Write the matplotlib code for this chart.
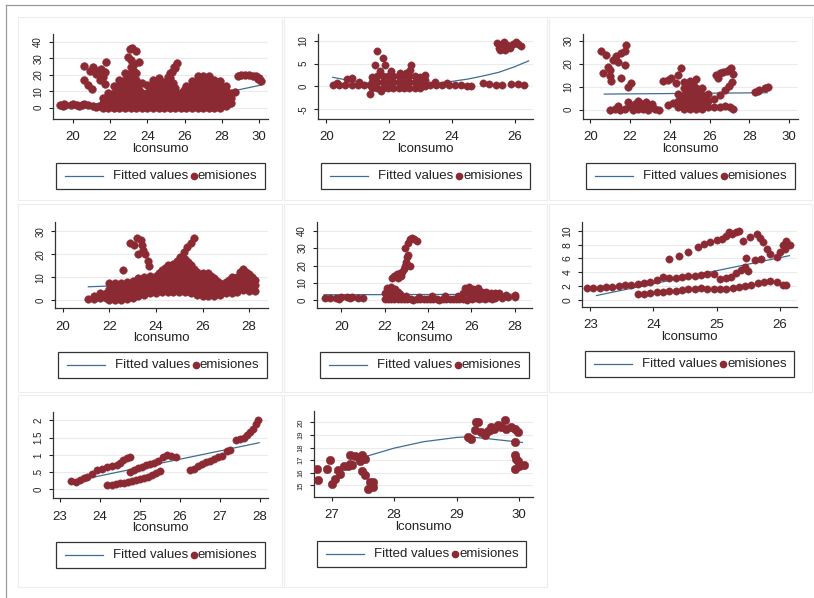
import numpy as np
import matplotlib.pyplot as plt
from matplotlib.lines import Line2D
from matplotlib.patches import Rectangle

plt.rcParams['font.family'] = ['Liberation Sans', 'DejaVu Sans']

MAROON = '#8C2A33'
NAVY = '#3E6E93'

# ---------------- data: (lconsumo, emisiones) ----------------
emis_1 = [
    (19.3, 1.5), (19.6, 1.6), (19.9, 1.8), (20.2, 1.6), (20.5, 1.5), (20.8, 1.4), (21.1, 1.2), (21.4, 1.0),
    (19.5, 2.3), (20.0, 2.4), (20.6, 2.2), (19.45, 0.8), (20.35, 0.9), (21.25, 0.5),
    (20.62, 25.6), (20.9, 22.6), (20.62, 16.6), (20.8, 13.6), (21.0, 11.6), (21.25, 20.6), (21.5, 23.6),
    (21.8, 27.6), (21.7, 14.6), (21.43, 16.6), (21.07, 24.6), (21.6, 18.6), (21.35, 22.5), (21.7, 21.5),
    (21.6, 0), (21.6, 3), (21.6, 6),
    (21.9, 0), (21.9, 3), (21.9, 6), (21.9, 9),
    (22.2, 0), (22.2, 3), (22.2, 6), (22.2, 9), (22.2, 13),
    (22.5, 0), (22.5, 3), (22.5, 6), (22.5, 9), (22.5, 13), (22.5, 17),
    (22.8, 0), (22.8, 3), (22.8, 6), (22.8, 9), (22.8, 13), (22.8, 17), (22.8, 21),
    (23.1, 0), (23.1, 3), (23.1, 6), (23.1, 9), (23.1, 13), (23.1, 17), (23.1, 21), (23.1, 25),
    (23.4, 0), (23.4, 3), (23.4, 6), (23.4, 9), (23.4, 13), (23.4, 17), (23.4, 21),
    (23.7, 0), (23.7, 3), (23.7, 6), (23.7, 9), (23.7, 15),
    (24.0, 0), (24.0, 3), (24.0, 6), (24.0, 9), (24.0, 14),
    (24.3, 0), (24.3, 3), (24.3, 6), (24.3, 9), (24.3, 14), (24.3, 17),
    (24.6, 0), (24.6, 3), (24.6, 6), (24.6, 9), (24.6, 13), (24.6, 18),
    (24.9, 0), (24.9, 3), (24.9, 6), (24.9, 9), (24.9, 13), (24.9, 15),
    (25.2, 0), (25.2, 3), (25.2, 6), (25.2, 9), (25.2, 13), (25.2, 18), (25.2, 21),
    (25.5, 0), (25.5, 3), (25.5, 6), (25.5, 9), (25.5, 12), (25.5, 24),
    (25.8, 0), (25.8, 3), (25.8, 6), (25.8, 9),
    (26.1, 0), (26.1, 3), (26.1, 6), (26.1, 9), (26.1, 13),
    (26.4, 0), (26.4, 3), (26.4, 6), (26.4, 9), (26.4, 13), (26.4, 16),
    (26.7, 0), (26.7, 3), (26.7, 6), (26.7, 9), (26.7, 13), (26.7, 17), (26.7, 19),
    (27.0, 0), (27.0, 3), (27.0, 6), (27.0, 9), (27.0, 13), (27.0, 17), (27.0, 19),
    (27.3, 0), (27.3, 3), (27.3, 6), (27.3, 9), (27.3, 13), (27.3, 17), (27.3, 19),
    (27.6, 0), (27.6, 3), (27.6, 6), (27.6, 9), (27.6, 13), (27.6, 17),
    (27.9, 0), (27.9, 3), (27.9, 6), (27.9, 9), (27.9, 13), (27.9, 16),
    (28.2, 1), (28.2, 4), (28.2, 7), (28.2, 10), (28.2, 13),
    (28.5, 3), (28.5, 6), (28.5, 9), (28.7, 9.5),
    (21.75, 1.5), (21.75, 4.5),
    (22.05, 1.5), (22.05, 4.5), (22.05, 7.5),
    (22.35, 1.5), (22.35, 4.5), (22.35, 7.5), (22.35, 11),
    (22.65, 1.5), (22.65, 4.5), (22.65, 7.5), (22.65, 11), (22.65, 15),
    (22.95, 1.5), (22.95, 4.5), (22.95, 7.5), (22.95, 11), (22.95, 15), (22.95, 19),
    (23.25, 1.5), (23.25, 4.5), (23.25, 7.5), (23.25, 11), (23.25, 15), (23.25, 19), (23.25, 23),
    (23.55, 1.5), (23.55, 4.5), (23.55, 7.5), (23.55, 11),
    (23.85, 1.5), (23.85, 4.5), (23.85, 7.5),
    (24.15, 1.5), (24.15, 4.5), (24.15, 7.5), (24.15, 11),
    (24.45, 1.5), (24.45, 4.5), (24.45, 7.5), (24.45, 11), (24.45, 15),
    (24.75, 1.5), (24.75, 4.5), (24.75, 7.5), (24.75, 11),
    (25.05, 1.5), (25.05, 4.5), (25.05, 7.5), (25.05, 11), (25.05, 15),
    (25.35, 1.5), (25.35, 4.5), (25.35, 7.5), (25.35, 11), (25.35, 15),
    (25.65, 1.5), (25.65, 4.5), (25.65, 7.5),
    (25.95, 1.5), (25.95, 4.5), (25.95, 7.5), (25.95, 11),
    (26.25, 1.5), (26.25, 4.5), (26.25, 7.5), (26.25, 11),
    (26.55, 1.5), (26.55, 4.5), (26.55, 7.5), (26.55, 11), (26.55, 15),
    (26.85, 1.5), (26.85, 4.5), (26.85, 7.5), (26.85, 11), (26.85, 15), (26.85, 18),
    (27.15, 1.5), (27.15, 4.5), (27.15, 7.5), (27.15, 11), (27.15, 15), (27.15, 18),
    (27.45, 1.5), (27.45, 4.5), (27.45, 7.5), (27.45, 11), (27.45, 15),
    (27.75, 1.5), (27.75, 4.5), (27.75, 7.5), (27.75, 11), (27.75, 15),
    (28.05, 1.5), (28.05, 4.5), (28.05, 7.5), (28.05, 11),
    (28.35, 2.5), (28.35, 5.5), (28.35, 8.5),
    (22.95, 30.6), (23.04, 35.6), (23.2, 36.6), (23.4, 34.6), (23.3, 26.6), (23.57, 27.6), (23.1, 29),
    (24.7, 12.6), (24.9, 15.5), (25.1, 18.5), (25.3, 21.5), (25.45, 24.5), (25.6, 27.4),
    (28.85, 19), (29.05, 20), (29.25, 20), (29.45, 19.8), (29.65, 19.5), (29.85, 19), (30.0, 18),
    (30.1, 16.5), (29.95, 17.2),
]
fit_1 = [(19.3, 1.2), (21.0, 1.5), (23.0, 2.5), (25.0, 4.3), (27.0, 7.0), (28.6, 10.2), (30.1, 13.8)]

emis_2 = [
    (20.2, 0.4), (20.4, 0.4), (20.6, 0.3), (20.8, 0.4), (21.0, 0.3), (21.2, 0.4), (21.4, 0.3),
    (20.35, 0.8), (20.65, 1.6), (20.8, 1.8), (21.05, 0.9),
    (23.3, 0.4), (23.5, 0.3), (23.7, 0.4), (23.9, 0.3), (24.1, 0.3), (24.3, 0.3), (24.5, 0.2), (24.6, 0.2),
    (23.45, 0.9), (23.85, 0.8),
    (21.45, -0.4), (21.45, 0.9), (21.45, 2.0), (21.62, -0.4), (21.62, 0.9), (21.62, 2.2),
    (21.79, -0.4), (21.79, 0.9), (21.79, 2.2), (21.96, -0.4), (21.96, 0.9), (21.96, 2.2),
    (22.13, -0.4), (22.13, 0.9), (22.13, 2.2), (22.3, -0.4), (22.3, 0.9), (22.3, 2.2),
    (22.47, -0.4), (22.47, 0.9), (22.47, 2.2), (22.64, -0.4), (22.64, 0.9), (22.64, 2.2),
    (22.81, -0.4), (22.81, 0.9), (22.81, 2.2), (22.98, -0.4), (22.98, 0.9), (22.98, 2.0),
    (23.15, 0.2), (23.15, 1.4),
    (21.6, 7.7), (21.54, 4.7), (21.8, 6.2), (21.86, 4.7), (22.07, 3.3), (22.55, 2.9), (22.7, 4.7),
    (22.66, 3.6), (23.14, 2.6), (21.7, 3.3), (22.35, 3.0), (21.4, -1.6), (21.75, -1.1),
    (25.0, 0.7), (25.2, 0.6), (25.4, 0.4), (25.6, 0.3), (25.9, 0.5), (26.1, 0.5), (26.3, 0.4),
    (25.45, 9.5), (25.5, 8.5), (25.6, 9.3), (25.7, 8.0), (25.75, 9.0), (25.85, 8.5), (25.95, 9.2),
    (26.05, 9.8), (26.1, 9.2), (26.2, 8.8), (25.55, 8.0), (25.65, 9.8),
]
fit_2 = [(20.2, 2.0), (20.5, 1.6), (21.0, 1.0), (21.5, 0.6), (22.0, 0.4), (22.5, 0.35), (23.0, 0.45),
         (23.5, 0.7), (24.0, 1.1), (24.5, 1.6), (25.0, 2.3), (25.5, 3.1), (26.0, 4.3), (26.45, 5.6)]

emis_3 = [
    (20.55, 25.4), (20.8, 23.9), (20.64, 15.9), (20.9, 18.8), (20.97, 14.5), (21.06, 12.3), (21.14, 21.7),
    (21.3, 23.2), (21.56, 24.6), (21.73, 25.4), (21.8, 28.3), (21.73, 19.6), (21.56, 13.8), (21.9, 10.1),
    (22.06, 11.6), (20.97, 17.4), (21.4, 21.0),
    (21.0, 0), (21.25, 0.3), (21.5, 0), (21.75, 0.5), (22.0, 1.5), (22.25, 2.5), (22.5, 3.0), (22.75, 2.5),
    (23.0, 1.5), (23.25, 0.5), (23.45, 0), (21.4, 1.8), (21.9, 3.2), (22.4, 0.5), (22.9, 0), (22.65, 0.2),
    (22.15, 0), (22.8, 3.5), (22.4, 3.8), (23.1, 2.5),
    (23.66, 12.3), (23.9, 13.0), (24.07, 13.8), (24.4, 15.2), (24.58, 18.1), (24.33, 11.6),
    (23.9, 2.2), (24.16, 2.9),
    (24.4, 1), (24.4, 4), (24.4, 7),
    (24.7, 0.5), (24.7, 3.5), (24.7, 6.5), (24.7, 9.5), (24.7, 12),
    (25.0, 0.5), (25.0, 3.5), (25.0, 6.5), (25.0, 9.5), (25.0, 12.5),
    (25.3, 0.5), (25.3, 3.5), (25.3, 6.5), (25.3, 9.5), (25.3, 13.5),
    (25.6, 0.5), (25.6, 3.5), (25.6, 6.5), (25.6, 9.5),
    (25.9, 1), (25.9, 4), (25.9, 7),
    (24.85, 2), (24.85, 5), (24.85, 8), (25.15, 2), (25.15, 5), (25.15, 8), (25.45, 2), (25.45, 5),
    (24.55, 2.5), (24.55, 5.5), (25.45, 8), (25.75, 2), (25.75, 5), (24.85, 11), (25.15, 11),
    (26.2, 4.5), (26.5, 6.5), (26.8, 8.5), (27.0, 10.5), (27.15, 12),
    (26.2, 1.2), (26.5, 1.3), (26.8, 1.4), (27.05, 1.0), (27.2, 0.2),
    (26.3, 15), (26.5, 15.8), (26.7, 16.3), (26.9, 17), (27.05, 17.6), (27.2, 15.5), (26.4, 14.0), (27.1, 18.2),
    (28.27, 7.5), (28.5, 8.7), (28.77, 9.4), (28.94, 10.1), (28.44, 8.0),
]
fit_3 = [(20.7, 6.8), (28.9, 7.4)]

emis_4 = [
    (21.1, 0.5), (21.35, 0.5), (21.35, 2), (21.6, 1), (21.6, 3), (21.85, 1), (21.85, 3),
    (22.0, 0), (22.0, 2.5), (22.0, 5), (22.0, 7.5),
    (22.25, 0), (22.25, 2.5), (22.25, 5), (22.25, 7.5),
    (22.5, 0), (22.5, 2.5), (22.5, 5), (22.5, 7.5), (22.6, 13),
    (22.75, 0.5), (22.75, 3), (22.75, 5.5), (22.75, 8),
    (23.0, 1), (23.0, 3.5), (23.0, 6), (23.0, 8.5),
    (23.25, 2), (23.25, 4.5), (23.25, 7), (23.25, 9.5),
    (23.5, 2.5), (23.5, 5), (23.5, 7.5), (23.5, 10),
    (23.75, 3), (23.75, 5.5), (23.75, 8), (23.75, 10.5),
    (24.0, 3), (24.0, 5.5), (24.0, 8), (24.0, 10.5),
    (24.25, 3.5), (24.25, 6), (24.25, 8.5), (24.25, 11), (24.25, 13),
    (24.5, 3.5), (24.5, 6), (24.5, 8.5), (24.5, 11), (24.5, 13.5), (24.5, 15.5),
    (24.75, 3.5), (24.75, 6), (24.75, 8.5), (24.75, 11), (24.75, 13.5), (24.75, 16),
    (25.0, 3.5), (25.0, 6), (25.0, 8.5), (25.0, 11), (25.0, 13.5), (25.0, 16),
    (25.25, 3.5), (25.25, 6), (25.25, 8.5), (25.25, 11), (25.25, 13.5), (25.25, 16), (25.25, 18),
    (25.5, 3), (25.5, 5.5), (25.5, 8), (25.5, 10.5), (25.5, 13), (25.5, 15.5),
    (25.75, 2.5), (25.75, 5), (25.75, 7.5), (25.75, 10), (25.75, 12.5),
    (26.0, 2), (26.0, 4.5), (26.0, 7), (26.0, 9.5), (26.0, 12),
    (26.25, 2), (26.25, 4.5), (26.25, 7), (26.25, 9.5), (26.25, 12),
    (26.5, 2), (26.5, 4.5), (26.5, 7), (26.5, 9.5),
    (26.75, 2.5), (26.75, 5), (26.75, 7.5),
    (27.0, 3), (27.0, 5.5), (27.0, 8),
    (27.25, 3), (27.25, 5.5), (27.25, 8), (27.25, 10),
    (27.5, 3.5), (27.5, 6), (27.5, 8.5), (27.5, 10),
    (27.75, 4.5), (27.75, 7), (27.75, 9.5), (27.75, 12), (27.75, 13.5),
    (28.0, 4), (28.0, 6.5), (28.0, 9), (28.0, 11.5),
    (28.25, 4), (28.25, 6.5), (28.25, 9),
    (22.125, 1.25), (22.125, 3.75), (22.125, 6.25),
    (22.375, 1.25), (22.375, 3.75), (22.375, 6.25),
    (22.625, 1.75), (22.625, 4.25), (22.625, 6.75),
    (22.875, 2.25), (22.875, 4.75), (22.875, 7.25),
    (23.125, 3), (23.125, 5.5), (23.125, 8),
    (23.375, 3.5), (23.375, 6), (23.375, 8.5),
    (23.625, 4), (23.625, 6.5), (23.625, 9),
    (23.875, 4.25), (23.875, 6.75), (23.875, 9.25),
    (24.125, 4.75), (24.125, 7.25), (24.125, 9.75), (24.125, 12),
    (24.375, 4.75), (24.375, 7.25), (24.375, 9.75), (24.375, 12.25), (24.375, 14),
    (24.625, 4.75), (24.625, 7.25), (24.625, 9.75), (24.625, 12.25), (24.625, 14.75),
    (24.875, 4.75), (24.875, 7.25), (24.875, 9.75), (24.875, 12.25), (24.875, 14.75),
    (25.125, 4.75), (25.125, 7.25), (25.125, 9.75), (25.125, 12.25), (25.125, 14.75), (25.125, 17),
    (25.375, 4.25), (25.375, 6.75), (25.375, 9.25), (25.375, 11.75), (25.375, 14.25), (25.375, 16.5),
    (25.625, 3.75), (25.625, 6.25), (25.625, 8.75), (25.625, 11.25), (25.625, 13.75),
    (25.875, 3.25), (25.875, 5.75), (25.875, 8.25), (25.875, 10.75),
    (26.125, 3.25), (26.125, 5.75), (26.125, 8.25), (26.125, 10.75),
    (26.375, 3.25), (26.375, 5.75), (26.375, 8.25), (26.375, 10.5),
    (26.625, 3.5), (26.625, 6), (26.625, 8.5),
    (26.875, 4), (26.875, 6.5),
    (27.125, 4.25), (27.125, 6.75), (27.125, 9),
    (27.375, 4.75), (27.375, 7.25), (27.375, 9.5),
    (27.625, 5.5), (27.625, 8), (27.625, 10.5), (27.625, 12.5),
    (27.875, 5.5), (27.875, 8), (27.875, 10.5), (27.875, 12.5),
    (28.125, 5.25), (28.125, 7.75), (28.125, 10),
    (24.9, 17), (25.05, 19), (25.2, 21), (25.35, 23), (25.5, 25), (25.65, 27),
    (22.9, 25), (23.05, 24), (23.2, 27), (23.35, 26), (23.45, 22), (23.55, 20), (23.65, 17), (23.7, 15),
    (23.25, 20), (23.4, 24),
]
fit_4 = [(21.1, 5.9), (28.3, 8.6)]

emis_5 = [
    (19.25, 1.2), (19.5, 1.3), (19.75, 1.6), (20.0, 1.9), (20.25, 2.0), (20.5, 1.8), (20.75, 1.6), (21.0, 1.6),
    (19.9, 1.0), (20.4, 1.2),
    (22.0, 1), (22.3, 1), (22.6, 1), (22.9, 1), (23.2, 1), (23.5, 1), (23.8, 1), (24.1, 1), (24.4, 1),
    (24.7, 1), (25.0, 1), (25.3, 1), (25.6, 1), (25.9, 1.5), (26.2, 1.5), (26.5, 1.5), (26.8, 1.5),
    (27.1, 1.2), (27.4, 1.5), (27.7, 1.8), (28.0, 2.0), (23.0, 2.5), (23.6, 2.2), (24.2, 2.6), (24.8, 2.3),
    (25.4, 2.4), (24.5, 0), (23.3, 0), (25.8, 0.2), (27.2, 2.8), (27.6, 3), (28.0, 2.8),
    (22.15, 0.5), (22.45, 0.5), (22.75, 0.5), (23.05, 0.5), (23.65, 0.5), (23.95, 0.5), (24.25, 0.5),
    (24.85, 0.5), (25.15, 0.5), (25.45, 0.5), (26.05, 0.5), (26.35, 0.5), (26.65, 0.5), (26.95, 0.5),
    (22.0, 4), (22.2, 4.5), (22.4, 4), (22.6, 5), (22.1, 7), (22.3, 7.5), (22.5, 6.5), (22.7, 3.5),
    (25.6, 4), (25.8, 5), (26.0, 4), (26.2, 5), (26.4, 4), (25.7, 7), (25.9, 7.5), (26.1, 6.5), (26.3, 7),
    (26.5, 5), (26.7, 4.8), (26.9, 4.5), (27.1, 4.5), (27.3, 4.2),
    (22.35, 13), (22.45, 14), (22.55, 15), (22.6, 13), (22.7, 15.5), (22.8, 16.5), (22.9, 18), (22.95, 20),
    (23.0, 22), (23.05, 25), (23.1, 26), (22.95, 30), (23.1, 33), (23.15, 35.5), (23.25, 36), (23.35, 35),
    (23.5, 34), (23.15, 20), (22.75, 14),
]
fit_5 = [(19.2, 3.2), (28.0, 3.5)]

emis_6 = [
    (22.95, 1.7), (23.05, 1.7), (23.15, 1.7), (23.25, 1.8), (23.35, 1.9), (23.45, 2.0), (23.55, 2.1),
    (23.65, 2.2), (23.75, 2.3), (23.85, 2.4), (23.95, 2.6), (24.05, 2.9), (24.15, 3.3), (24.25, 3.2),
    (24.35, 3.1), (24.45, 3.3), (24.55, 3.4), (24.65, 3.5), (24.75, 3.6), (24.85, 3.7), (24.95, 3.8),
    (25.05, 3.05), (25.15, 3.1), (25.22, 3.3), (25.3, 3.9), (25.38, 4.3), (25.45, 4.75), (25.5, 4.2),
    (23.75, 0.75), (23.85, 0.85), (23.95, 0.95), (24.05, 1.05), (24.15, 1.1), (24.25, 1.2), (24.35, 1.3),
    (24.45, 1.4), (24.55, 1.5), (24.65, 1.6), (24.75, 1.65), (24.85, 1.6), (24.95, 1.5), (25.05, 1.5),
    (25.15, 1.6), (25.25, 1.75), (25.35, 1.9), (25.45, 2.0), (25.55, 2.2), (25.65, 2.4), (25.75, 2.6),
    (25.85, 2.65), (25.95, 2.5), (26.05, 2.2), (26.1, 2.1),
    (24.25, 5.95), (24.4, 6.4), (24.55, 6.9), (24.7, 7.7), (24.8, 8.1), (24.9, 8.4), (25.0, 8.7),
    (25.08, 8.8), (25.15, 9.2), (25.24, 9.5), (25.3, 9.8), (25.2, 9.8), (25.35, 9.95), (25.42, 8.6),
    (25.53, 9.1), (25.63, 9.5), (25.68, 9.0), (25.74, 8.4), (25.79, 7.4), (25.84, 6.7), (25.95, 6.2),
    (26.0, 6.9), (26.05, 7.9), (26.1, 8.6), (26.16, 7.9), (26.08, 7.4), (25.47, 6.0), (25.6, 5.8),
    (25.7, 5.9),
]
fit_6 = [(23.1, 0.6), (26.15, 6.4)]

emis_7 = [
    (23.29, 0.23), (23.4, 0.22), (23.5, 0.28), (23.6, 0.33), (23.67, 0.36), (23.8, 0.45), (23.92, 0.55),
    (24.05, 0.6), (24.17, 0.65), (24.3, 0.67), (24.42, 0.7), (24.5, 0.75), (24.58, 0.84), (24.67, 0.9),
    (24.75, 0.94),
    (24.17, 0.12), (24.3, 0.13), (24.4, 0.15), (24.5, 0.17), (24.6, 0.19), (24.7, 0.21), (24.8, 0.24),
    (24.9, 0.27), (25.0, 0.3), (25.1, 0.33), (25.2, 0.37), (25.3, 0.42), (25.4, 0.48), (25.5, 0.53),
    (24.75, 0.5), (24.85, 0.57), (24.95, 0.62), (25.05, 0.66), (25.15, 0.7), (25.25, 0.72), (25.35, 0.75),
    (25.45, 0.82), (25.58, 0.95), (25.67, 1.0), (25.78, 0.97), (25.9, 0.93),
    (26.25, 0.55), (26.35, 0.6), (26.45, 0.68), (26.55, 0.74), (26.65, 0.78), (26.75, 0.82), (26.85, 0.88),
    (26.95, 0.93), (27.05, 0.98), (27.17, 1.1), (27.25, 1.15), (27.4, 1.42), (27.5, 1.45), (27.6, 1.5),
    (27.67, 1.56), (27.75, 1.66), (27.83, 1.76), (27.9, 1.88), (27.96, 2.0),
]
fit_7 = [(23.25, 0.21), (27.98, 1.35)]

emis_8 = [
    (26.76, 16.3), (26.92, 16.3), (26.78, 15.4), (26.97, 17.0), (27.0, 15.1), (27.05, 15.5), (27.13, 15.9),
    (27.2, 16.5), (27.3, 16.7), (27.37, 17.3), (27.48, 17.4), (27.32, 16.6), (27.29, 17.4), (27.53, 17.1),
    (27.45, 16.9), (27.27, 16.5), (27.48, 16.1), (27.53, 15.8), (27.61, 15.3), (27.58, 14.7), (27.66, 14.9),
    (27.67, 15.3), (27.1, 16.2),
    (29.18, 18.86), (29.23, 18.7), (29.31, 20.05), (29.34, 20.05), (29.29, 19.4), (29.39, 19.26),
    (29.45, 19.0), (29.53, 19.4), (29.6, 19.5), (29.71, 19.65), (29.77, 20.2), (29.79, 19.5), (29.87, 19.65),
    (29.93, 19.5), (29.98, 19.26), (29.93, 18.46), (29.93, 17.4), (29.95, 17.1), (29.98, 16.9), (29.93, 16.3),
    (30.0, 16.5), (30.07, 16.6), (29.66, 19.8), (29.5, 19.3), (29.55, 19.65),
]
fit_8 = [(27.05, 16.0), (27.3, 16.6), (27.53, 17.26), (28.0, 17.95), (28.47, 18.46), (29.0, 18.8),
         (29.2, 18.85), (29.5, 18.7), (30.05, 18.4)]

# ---------------- layout (pixels in the 814x598 canvas) ----------------
W, H = 814, 598
panels = [
    dict(box=(53, 34, 268, 119), pts=emis_1, fit=fit_1, xlim=(18.93, 30.48), ylim=(-6.8, 44.8),
         xt=[20, 22, 24, 26, 28, 30], yt=[0, 10, 20, 30, 40], yl=None, ys=7, ms=32),
    dict(box=(318, 34, 533, 119), pts=emis_2, fit=fit_2, xlim=(19.73, 26.59), ylim=(-7.15, 11.5),
         xt=[20, 22, 24, 26], yt=[-5, 0, 5, 10], yl=None, ys=7, ms=28),
    dict(box=(583, 34, 798, 119), pts=emis_3, fit=fit_3, xlim=(19.63, 30.45), ylim=(-4.06, 33),
         xt=[20, 22, 24, 26, 28, 30], yt=[0, 10, 20, 30], yl=None, ys=7, ms=30),
    dict(box=(55, 222, 268, 308), pts=emis_4, fit=fit_4, xlim=(19.67, 28.81), ylim=(-3.3, 34),
         xt=[20, 22, 24, 26, 28], yt=[0, 10, 20, 30], yl=None, ys=7, ms=30),
    dict(box=(317, 222, 532, 308), pts=emis_5, fit=fit_5, xlim=(18.88, 28.8), ylim=(-4.4, 45),
         xt=[20, 22, 24, 26, 28], yt=[0, 10, 20, 30, 40], yl=None, ys=7, ms=28),
    dict(box=(582, 222, 797, 307), pts=emis_6, fit=fit_6, xlim=(22.87, 26.27), ylim=(-1.07, 11.3),
         xt=[23, 24, 25, 26], yt=[0, 2, 4, 6, 8, 10], yl=None, ys=7.5, ms=28),
    dict(box=(53, 412, 268, 498), pts=emis_7, fit=fit_7, xlim=(22.83, 28.2), ylim=(-0.25, 2.24),
         xt=[23, 24, 25, 26, 27, 28], yt=[0, 0.5, 1, 1.5, 2], yl=['0', '.5', '1', '1.5', '2'], ys=7, ms=28),
    dict(box=(314, 411, 533, 497), pts=emis_8, fit=fit_8, xlim=(26.72, 30.22), ylim=(14.07, 20.9),
         xt=[27, 28, 29, 30], yt=[15, 16, 17, 18, 19, 20], yl=None, ys=5.5, ms=38),
]

fig = plt.figure(figsize=(W / 100, H / 100), dpi=100)
fig.patch.set_facecolor('white')


def fx(x):
    return x / W


def fy(y):
    return 1 - y / H


# screenshot frame and faint panel boxes
fig.add_artist(Line2D([fx(6), fx(814)], [fy(5), fy(5)], color='#9A9A9A', lw=0.9))
fig.add_artist(Line2D([fx(6), fx(6)], [fy(5), fy(598)], color='#9A9A9A', lw=0.9))
for cx0, cx1 in [(18, 282), (284, 547), (549, 812)]:
    for cy0, cy1 in [(17, 200), (204, 392), (395, 587)]:
        if cx0 == 549 and cy0 == 395:
            continue
        fig.add_artist(Rectangle((fx(cx0), fy(cy1)), fx(cx1 - cx0), (cy1 - cy0) / H,
                                 fill=False, ec='#EDEDED', lw=0.8))

for p in panels:
    l, t, r, b = p['box']
    ax = fig.add_axes([fx(l), fy(b), (r - l) / W, (b - t) / H])
    pts = np.array(p['pts'])
    fit = np.array(p['fit'])
    ax.plot(fit[:, 0], fit[:, 1], color=NAVY, lw=0.9, zorder=2)
    ax.scatter(pts[:, 0], pts[:, 1], s=p['ms'], color=MAROON, edgecolors=MAROON, linewidths=0.3, zorder=3)
    ax.set_xlim(*p['xlim'])
    ax.set_ylim(*p['ylim'])
    ax.set_xticks(p['xt'])
    ax.set_xticklabels([str(v) for v in p['xt']], fontsize=9.5)
    ylabels = p['yl'] if p['yl'] else [str(v) for v in p['yt']]
    ax.set_yticks(p['yt'])
    ax.set_yticklabels(ylabels, fontsize=p['ys'], rotation=90, va='center')
    for side in ['top', 'right']:
        ax.spines[side].set_visible(False)
    for side in ['left', 'bottom']:
        ax.spines[side].set_color('#333333')
        ax.spines[side].set_linewidth(0.9)
    ax.tick_params(axis='x', length=3, width=0.8, pad=6, colors='#222222')
    ax.tick_params(axis='y', length=3, width=0.8, pad=4, colors='#222222')
    ax.yaxis.grid(True, color='#EBEBEB', lw=0.8)
    ax.set_axisbelow(True)
    ax.set_xlabel('lconsumo', fontsize=9.5, labelpad=-0.5, color='#222222')

    # legend box under each plot
    bl, br = l + 3, l + 212
    bt, bb = b + 44, b + 70
    ym = fy((bt + bb) / 2)
    fig.add_artist(Rectangle((fx(bl), fy(bb)), fx(br - bl), (bb - bt) / H,
                             fill=False, ec='#333333', lw=0.9))
    fig.add_artist(Line2D([fx(bl + 9), fx(bl + 47)], [ym, ym], color=NAVY, lw=0.9))
    fig.text(fx(bl + 57), ym, 'Fitted values', fontsize=9.5, va='center', ha='left', color='#222222')
    fig.add_artist(Line2D([fx(bl + 138)], [ym], marker='o', ms=4.5, color=MAROON, lw=0))
    fig.text(fx(bl + 142), ym, 'emisiones', fontsize=9.5, va='center', ha='left', color='#222222')

fig.savefig('out.png', dpi=100)
